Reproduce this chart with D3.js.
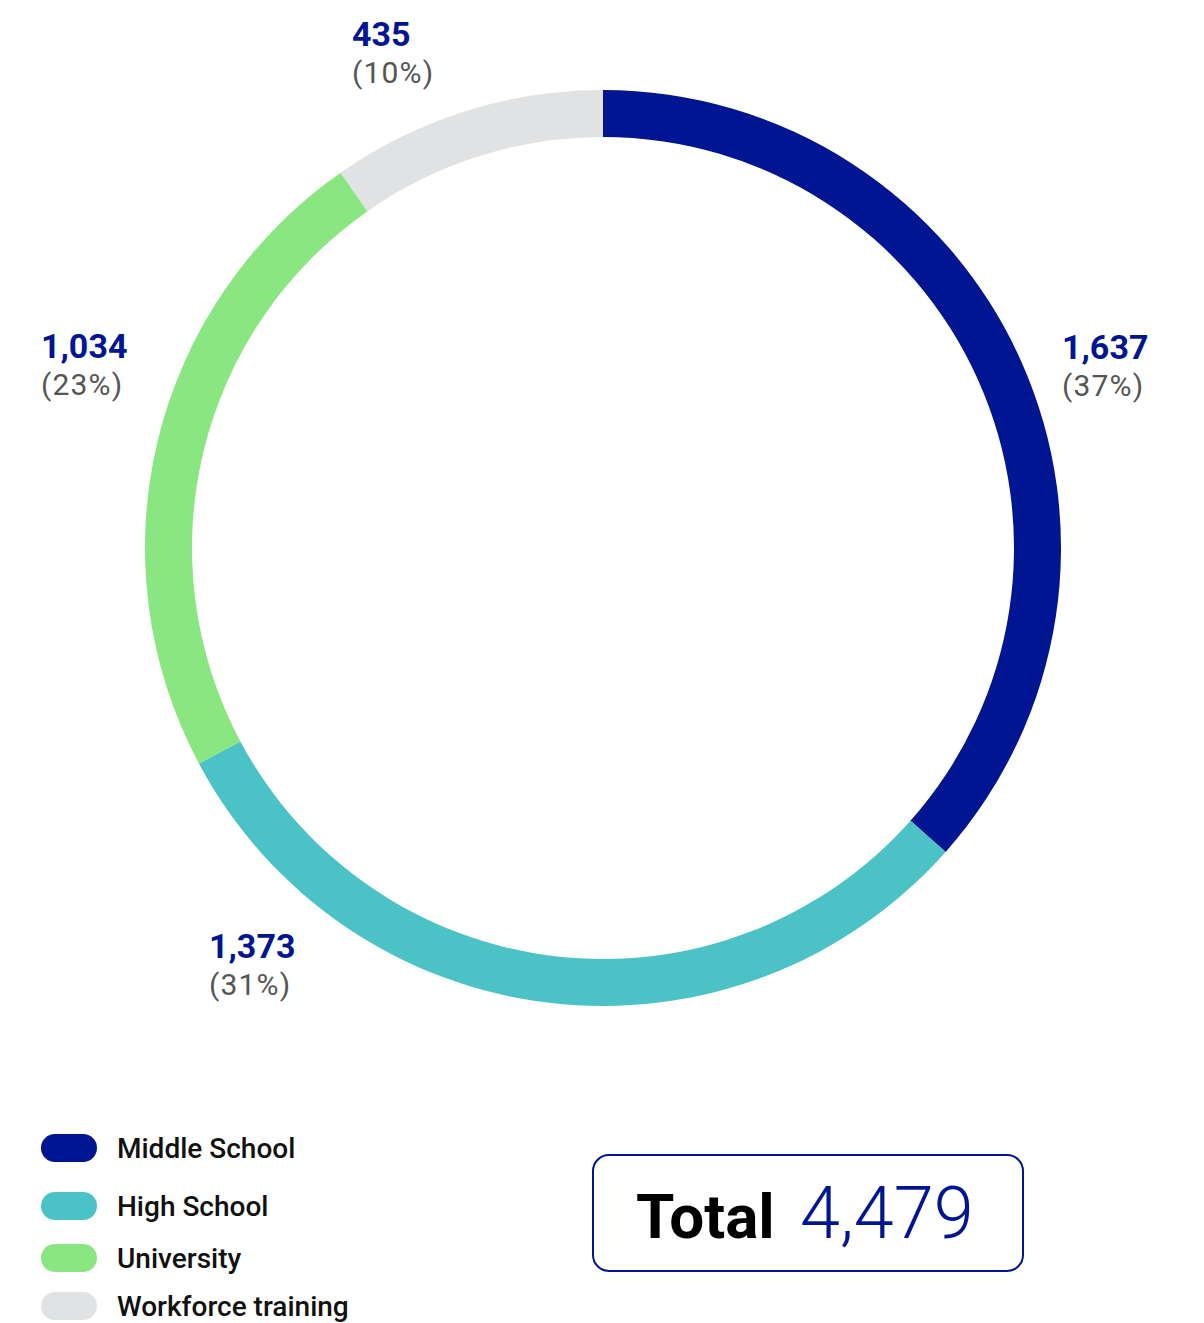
<!DOCTYPE html>
<html>
<head>
<meta charset="utf-8">
<script src="https://cdn.jsdelivr.net/npm/d3@7"></script>
<style>
  html, body { margin: 0; padding: 0; background: #fff; }
  svg { display: block; }
</style>
</head>
<body>
<svg id="chart" width="1204" height="1323"></svg>
<script>
// Enrolment by programme level
const categories = ["Middle School", "High School", "University", "Workforce training"];
const values = [1637, 1373, 1034, 435];
const percentLabels = ["37%", "31%", "23%", "10%"];
const colors = ["#001591", "#4bc3c6", "#89e680", "#e1e2e4"];
const totalLabel = "Total";

const W = 1204, H = 1323;
const cx = 603, cy = 548;
const outerR = 458, innerR = 411;
const navy = "#001591";
const font = "Roboto, 'Open Sans', sans-serif";

const svg = d3.select("#chart");

const pie = d3.pie().sort(null).value(d => d.value).startAngle(0).endAngle(2 * Math.PI);
const arc = d3.arc().innerRadius(innerR).outerRadius(outerR);

const data = categories.map((c, i) => ({ name: c, value: values[i], pct: percentLabels[i], color: colors[i] }));
const arcs = pie(data);

const ring = svg.append("g").attr("transform", `translate(${cx},${cy})`);
ring.selectAll("path")
  .data(arcs)
  .join("path")
  .attr("d", arc)
  .attr("fill", d => d.data.color);

// Value labels: left edge of each label block, offset from the ring centre
const labelOffsets = [
  { dx: 459, dy: -189 },   // Middle School
  { dx: -394, dy: 410 },   // High School
  { dx: -562, dy: -190 },  // University
  { dx: -251, dy: -502 }   // Workforce training
];
const fmt = d3.format(",");
const labels = svg.append("g");
arcs.forEach((a, i) => {
  const x = cx + labelOffsets[i].dx;
  const y = cy + labelOffsets[i].dy;
  labels.append("text")
    .attr("x", x).attr("y", y)
    .attr("font-family", font)
    .attr("font-weight", 700)
    .attr("font-size", 34)
    .attr("fill", navy)
    .text(fmt(a.data.value));
  labels.append("text")
    .attr("x", x).attr("y", y + 37)
    .attr("font-family", font)
    .attr("font-weight", 400)
    .attr("font-size", 30)
    .attr("letter-spacing", 1.2)
    .attr("fill", "#555555")
    .text(`(${a.data.pct})`);
});

// Legend
const legendY = [1148, 1206, 1258, 1306];
const legend = svg.append("g");
data.forEach((d, i) => {
  const g = legend.append("g").attr("transform", `translate(41,${legendY[i]})`);
  g.append("rect")
    .attr("x", 0).attr("y", -14)
    .attr("width", 56).attr("height", 28)
    .attr("rx", 14).attr("ry", 14)
    .attr("fill", d.color);
  g.append("text")
    .attr("x", 76).attr("y", 0)
    .attr("dy", "0.35em")
    .attr("font-family", font)
    .attr("font-weight", 500)
    .attr("font-size", 28)
    .attr("fill", "#111")
    .text(d.name);
});

// Total box
const total = d3.sum(values);
const box = svg.append("g");
box.append("rect")
  .attr("x", 593).attr("y", 1155)
  .attr("width", 430).attr("height", 116)
  .attr("rx", 16).attr("ry", 16)
  .attr("fill", "#fff")
  .attr("stroke", navy)
  .attr("stroke-width", 2);
box.append("text")
  .attr("x", 636).attr("y", 1238)
  .attr("font-family", font)
  .attr("font-weight", 700)
  .attr("font-size", 62)
  .attr("fill", "#000")
  .text(totalLabel);
box.append("text")
  .attr("x", 800).attr("y", 1238)
  .attr("font-family", font)
  .attr("font-weight", 300)
  .attr("font-size", 72)
  .attr("fill", navy)
  .text(fmt(total));
</script>
</body>
</html>
